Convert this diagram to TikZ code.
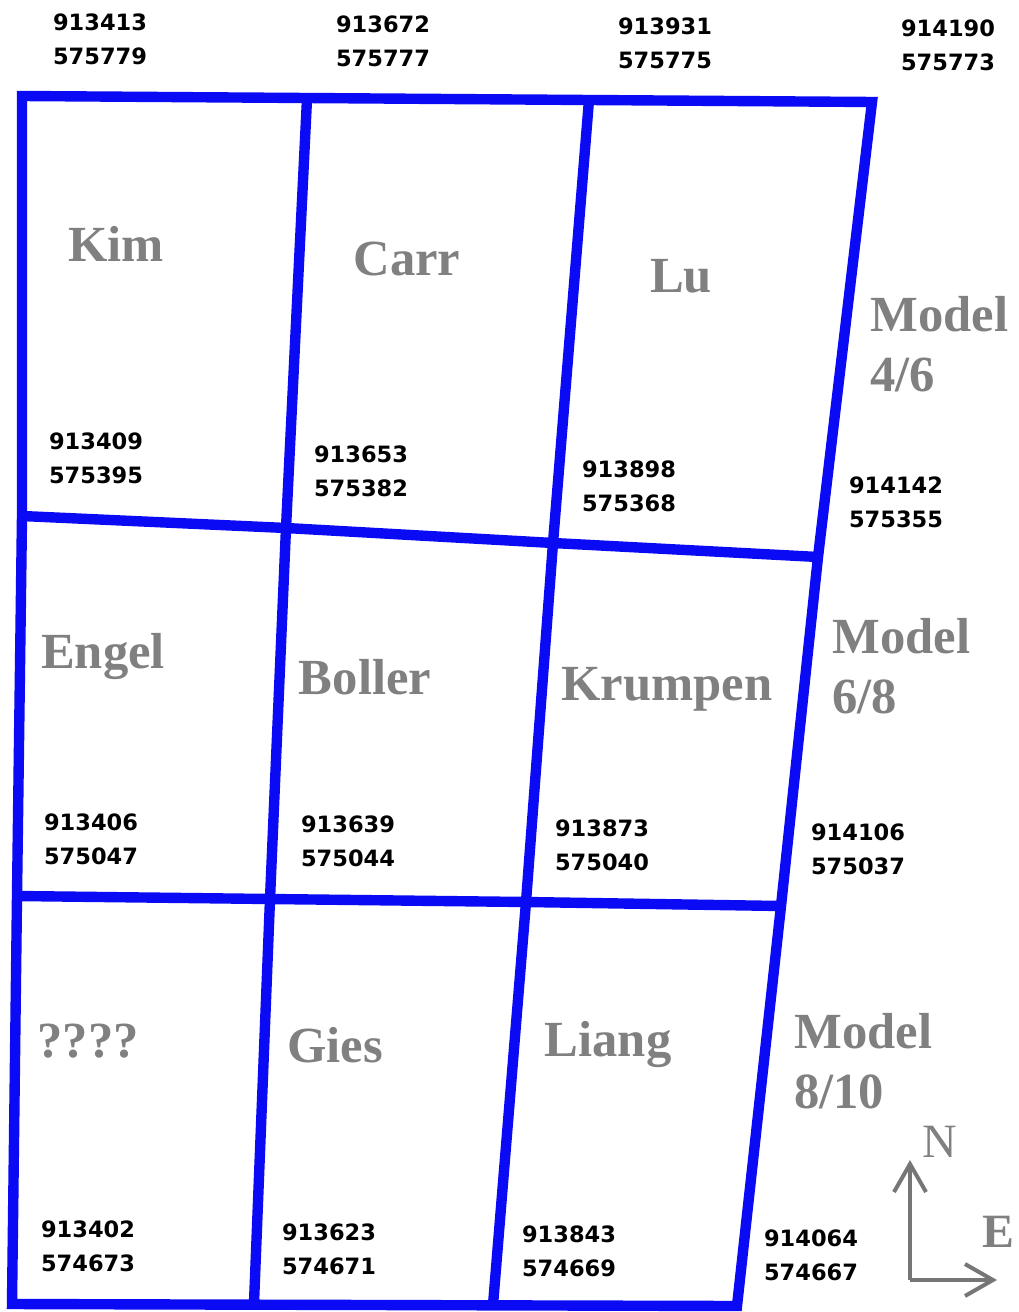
\documentclass[tikz,border=0pt]{standalone}
\usepackage{fontspec}
\newfontfamily\coordfont{DejaVu Sans}
\newfontfamily\namefont{Liberation Serif}
\usepackage{tikz}
\usetikzlibrary{arrows.meta}
\definecolor{gridblue}{RGB}{10,10,245}
\definecolor{namegray}{RGB}{128,128,128}
\definecolor{arrowgray}{RGB}{118,118,118}

\begin{document}
\begin{tikzpicture}[
        x=0.025cm, y=-0.025cm,
        block/.style={draw=gridblue, line width=0.26cm, line join=miter},
        coord/.style={font=\coordfont\bfseries\fontsize{16}{24.2}\selectfont, align=center, inner sep=0pt},
        owner/.style={font=\namefont\bfseries\fontsize{36}{42.7}\selectfont, text=namegray, inner sep=0pt, anchor=base},
        model/.style={owner, align=left, anchor=north west},
        compass/.style={draw=arrowgray, line width=0.1cm, -{Straight Barb[length=0.7cm, width=0.8cm]}}
    ]
        \useasboundingbox (0,0) rectangle (1018,1312);

        % Grid corners
        \coordinate (a0) at (22,96);   \coordinate (a1) at (307,99);
        \coordinate (a2) at (589,100); \coordinate (a3) at (872,102);
        \coordinate (b0) at (22,516);  \coordinate (b1) at (286,528);
        \coordinate (b2) at (553,543); \coordinate (b3) at (818,557);
        \coordinate (c0) at (17,896);  \coordinate (c1) at (270,899);
        \coordinate (c2) at (526,902); \coordinate (c3) at (781,906);
        \coordinate (d0) at (12,1304); \coordinate (d1) at (254,1303);
        \coordinate (d2) at (493,1305); \coordinate (d3) at (737,1306);

        % Blocks
        \draw[block] (a0) -- (a3) -- (b3) -- (c3) -- (d3) -- (d0) -- (c0) -- (b0) -- cycle;
        \draw[block] (b0) -- (b1) -- (b2) -- (b3);
        \draw[block] (c0) -- (c1) -- (c2) -- (c3);
        \draw[block] (a1) -- (b1) -- (c1) -- (d1);
        \draw[block] (a2) -- (b2) -- (c2) -- (d2);

        % Corner coordinates
        \node[coord] (p00) at (100,39)  {913413\\575779};
        \node[coord] (p01) at (383,41)  {913672\\575777};
        \node[coord] (p02) at (665,43)  {913931\\575775};
        \node[coord] (p03) at (948,45)  {914190\\575773};
        \node[coord] (p10) at (96,458)  {913409\\575395};
        \node[coord] (p11) at (361,471) {913653\\575382};
        \node[coord] (p12) at (629,486) {913898\\575368};
        \node[coord] (p13) at (896,502) {914142\\575355};
        \node[coord] (p20) at (91,839)  {913406\\575047};
        \node[coord] (p21) at (348,841) {913639\\575044};
        \node[coord] (p22) at (602,845) {913873\\575040};
        \node[coord] (p23) at (858,849) {914106\\575037};
        \node[coord] (p30) at (88,1246) {913402\\574673};
        \node[coord] (p31) at (329,1249) {913623\\574671};
        \node[coord] (p32) at (569,1251) {913843\\574669};
        \node[coord] (p33) at (811,1255) {914064\\574667};

        % Owners
        \node[owner] (kim) at (116,262) {Kim};
        \node[owner] (carr) at (407,276) {Carr};
        \node[owner] (lu) at (681,293) {Lu};
        \node[owner] (engel) at (103,668) {Engel};
        \node[owner] (boller) at (365,694) {Boller};
        \node[owner] (krumpen) at (667,700) {Krumpen};
        \node[owner] (unknown) at (88,1057) {????};
        \node[owner] (gies) at (335,1062) {Gies};
        \node[owner] (liang) at (608,1056) {Liang};

        % Models
        \node[model] (m46) at (870,296) {Model\\4/6};
        \node[model] (m68) at (832,618) {Model\\6/8};
        \node[model] (m810) at (794,1013) {Model\\8/10};

        % Compass
        \coordinate (origin) at (910,1280);
        \coordinate (north) at (910,1160);
        \coordinate (east) at (997,1280);
        \draw[compass] (origin) -- (north);
        \draw[compass] (origin) -- (east);
        \node[font=\namefont\fontsize{34}{40}\selectfont, text=namegray, inner sep=0pt] (nlabel) at (940,1142) {N};
        \node[font=\namefont\bfseries\fontsize{34}{40}\selectfont, text=namegray, inner sep=0pt, anchor=east] (elabel) at (1015,1232) {E};
    \end{tikzpicture}
\end{document}
